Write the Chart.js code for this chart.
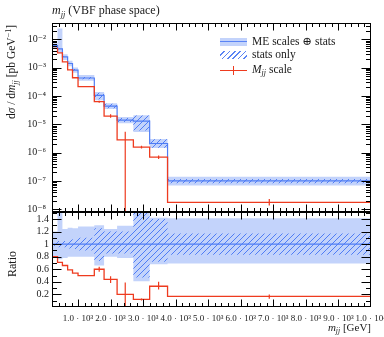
<!DOCTYPE html>
<html>
<head>
<meta charset="utf-8">
<script src="https://cdn.jsdelivr.net/npm/chart.js@4.4.0/dist/chart.umd.min.js"></script>
<style>
  body { margin: 0; background: #fff; }
  #wrap { position: relative; width: 384px; height: 337px; font-family: 'Liberation Serif', 'DejaVu Serif', serif; color: #1a1a1a; overflow: hidden; }
  #wrap canvas { position: absolute; left: 0; top: 0; }
  .txt { position: absolute; white-space: nowrap; line-height: 1; }
  sub, sup { font-size: 70%; line-height: 0; }
  sub { vertical-align: -0.3em; }
  sup { vertical-align: 0.55em; }
  .rot { transform: translate(-50%, -50%) rotate(-90deg); }
  .sw { position: absolute; }
</style>
</head>
<body>
<div id="wrap">
  <canvas id="main" width="384" height="337"></canvas>
  <canvas id="ratio" width="384" height="337"></canvas>

  <div class="txt" style="left:52px;top:4px;font-size:12px"><i>m</i><sub><i>jj</i></sub> (VBF phase space)</div>
  <div class="txt rot" style="left:12px;top:72px;font-size:11.5px">d<i>σ</i> / d<i>m</i><sub><i>jj</i></sub> [pb GeV<sup>−1</sup>]</div>
  <div class="txt rot" style="left:12px;top:264px;font-size:12px">Ratio</div>
  <div class="txt" style="right:13px;top:322px;font-size:11px"><i>m</i><sub><i>jj</i></sub> [GeV]</div>

  <!-- legend -->
  <div class="sw" style="left:220px;top:37.5px;width:27px;height:8.5px;background:#c3d3fb"></div>
  <div class="sw" style="left:220px;top:41px;width:27px;height:1.2px;background:#5a84f5"></div>
  <div class="txt" style="left:252px;top:35.5px;font-size:11.5px">ME scales ⊕ stats</div>
  <div class="sw" style="left:220px;top:50.5px;width:27px;height:8px;background:repeating-linear-gradient(135deg, transparent 0 2.6px, #5a84f5 2.6px 3.8px)"></div>
  <div class="txt" style="left:252px;top:49px;font-size:11.5px">stats only</div>
  <div class="sw" style="left:220px;top:69.5px;width:27px;height:1.3px;background:#ee3b1f"></div>
  <div class="sw" style="left:233px;top:66px;width:1.2px;height:8.5px;background:#ee3b1f"></div>
  <div class="txt" style="left:252px;top:63.5px;font-size:11.5px"><i>M</i><sub><i>jj</i></sub> scale</div>
</div>

<script>
// m_jj bin edges [GeV]
var binEdges = [200, 370, 520, 680, 830, 1000, 1500, 1800, 2200, 2700, 3200, 3750, 10000];

// dsigma/dm_jj [pb/GeV], ME scales central value and bands
var meCentral = [6.0e-3, 4.6e-3, 2.4e-3, 1.4e-3, 8.2e-4, 4.3e-4, 1.05e-4, 4.4e-5, 1.4e-5, 1.3e-5, 2.1e-6, 1.0e-7];
var meBandLo  = [4.8e-3, 3.5e-3, 1.87e-3, 1.12e-3, 6.6e-4, 3.44e-4, 7.0e-5, 3.5e-5, 1.1e-5, 5.3e-6, 1.45e-6, 0.69e-7];
var meBandHi  = [7.2e-3, 2.4e-2, 2.98e-3, 1.76e-3, 1.02e-3, 5.5e-4, 1.37e-4, 5.5e-5, 1.8e-5, 2.1e-5, 3.0e-6, 1.41e-7];
var statLo    = [5.8e-3, 4.4e-3, 2.28e-3, 1.3e-3, 7.5e-4, 3.9e-4, 7.7e-5, 3.7e-5, 1.2e-5, 6.1e-6, 1.5e-6, 0.83e-7];
var statHi    = [6.2e-3, 4.8e-3, 2.52e-3, 1.5e-3, 8.9e-4, 4.7e-4, 1.31e-4, 5.3e-5, 1.68e-5, 2.05e-5, 2.95e-6, 1.17e-7];

// M_jj scale curve and its error bars
var mjjScale = [4.8e-3, 3.3e-3, 1.6e-3, 8.3e-4, 4.4e-4, 2.15e-4, 6.3e-5, 1.95e-5, 2.8e-6, 1.56e-6, 6.9e-7, 1.75e-8];
var mjjErrLo = [null, null, null, null, null, null, 5.8e-5, 1.7e-5, 1e-12, 1.4e-6, 6.0e-7, 1.35e-8];
var mjjErrHi = [null, null, null, null, null, null, 6.8e-5, 2.25e-5, 5.5e-6, 1.75e-6, 7.9e-7, 2.3e-8];

// ratio panel
var ratioMe      = [1, 1, 1, 1, 1, 1, 1, 1, 1, 1, 1, 1];
var ratioBandLo  = [0.80, 0.76, 0.78, 0.80, 0.80, 0.80, 0.66, 0.80, 0.78, 0.41, 0.68, 0.69];
var ratioBandHi  = [1.20, 5.2, 1.24, 1.26, 1.25, 1.28, 1.30, 1.24, 1.29, 1.62, 1.42, 1.41];
var ratioStatLo  = [0.97, 0.95, 0.95, 0.93, 0.92, 0.90, 0.73, 0.85, 0.85, 0.47, 0.72, 0.83];
var ratioStatHi  = [1.03, 1.05, 1.05, 1.07, 1.08, 1.10, 1.25, 1.20, 1.20, 1.58, 1.40, 1.17];
var ratioMjj     = [0.80, 0.71, 0.66, 0.59, 0.54, 0.50, 0.60, 0.44, 0.20, 0.12, 0.33, 0.17];
var ratioMjjErrLo = [null, null, null, null, null, null, 0.56, 0.38, -0.1, 0.105, 0.28, 0.13];
var ratioMjjErrHi = [null, null, null, null, null, null, 0.64, 0.49, 0.39, 0.135, 0.40, 0.20];

// axes
var xTickValues = [1000, 2000, 3000, 4000, 5000, 6000, 7000, 8000, 9000, 10000];
var xTickLabels = ['1.0 · 10³', '2.0 · 10³', '3.0 · 10³', '4.0 · 10³', '5.0 · 10³', '6.0 · 10³', '7.0 · 10³', '8.0 · 10³', '9.0 · 10³', '1.0 · 10⁴'];
var yTickValues = [1e-8, 1e-7, 1e-6, 1e-5, 1e-4, 1e-3, 1e-2];
var yTickLabels = ['10⁻⁸', '10⁻⁷', '10⁻⁶', '10⁻⁵', '10⁻⁴', '10⁻³', '10⁻²'];
var ratioTickValues = [0.2, 0.4, 0.6, 0.8, 1, 1.2, 1.4];
var ratioTickLabels = ['0.2', '0.4', '0.6', '0.8', '1', '1.2', '1.4'];

var blue = '#4f7df5';
var lightBlue = '#c3d3fb';
var red = '#ee3b1f';

Chart.defaults.font.family = "'Liberation Serif', 'DejaVu Serif', serif";
Chart.defaults.color = '#1a1a1a';

function steps(vals) {
  var pts = [];
  for (var i = 0; i < vals.length; i++) pts.push({x: binEdges[i], y: vals[i]});
  pts.push({x: binEdges[binEdges.length - 1], y: vals[vals.length - 1]});
  return pts;
}

function errorBars(lo, hi) {
  var pts = [];
  for (var i = 0; i < lo.length; i++) {
    if (lo[i] == null) continue;
    var c = (binEdges[i] + binEdges[i + 1]) / 2;
    pts.push({x: c, y: lo[i]}, {x: c, y: hi[i]}, {x: c, y: null});
  }
  return pts;
}

function hatch() {
  var c = document.createElement('canvas');
  c.width = 6; c.height = 6;
  var g = c.getContext('2d');
  g.strokeStyle = blue;
  g.lineWidth = 1;
  g.beginPath();
  g.moveTo(0, 6); g.lineTo(6, 0);
  g.moveTo(-1, 1); g.lineTo(1, -1);
  g.moveTo(5, 7); g.lineTo(7, 5);
  g.stroke();
  return g.createPattern(c, 'repeat');
}

function histDatasets(bLo, bHi, sLo, sHi, central, other, errLo, errHi) {
  var base = {stepped: true, pointRadius: 0, borderWidth: 0, fill: false};
  return [
    Object.assign({}, base, {data: steps(bLo), order: 6}),
    Object.assign({}, base, {data: steps(bHi), order: 5, fill: 0, backgroundColor: lightBlue}),
    Object.assign({}, base, {data: steps(sLo), order: 4}),
    Object.assign({}, base, {data: steps(sHi), order: 3, fill: 2, backgroundColor: hatch()}),
    Object.assign({}, base, {data: steps(central), order: 2, borderWidth: 1.2, borderColor: blue}),
    Object.assign({}, base, {data: steps(other), order: 1, borderWidth: 1.3, borderColor: red}),
    {data: errorBars(errLo, errHi), order: 0, pointRadius: 0, borderWidth: 1.2, borderColor: red, spanGaps: false, fill: false}
  ];
}

// frame with inward ticks on all four sides
function framePlugin(yMajor, yMinor) {
  return {
    id: 'frame',
    afterDatasetsDraw: function(chart) {
      var ctx = chart.ctx, a = chart.chartArea;
      var xs = chart.scales.x, ys = chart.scales.y;
      var L = Math.round(a.left) + 0.5, R = Math.round(a.right) - 0.5;
      var T = Math.round(a.top) + 0.5, B = Math.round(a.bottom) - 0.5;
      ctx.save();
      ctx.strokeStyle = '#000';
      ctx.lineWidth = 1;
      ctx.beginPath();
      for (var v = 400; v < 10000; v += 200) {
        var len = v % 1000 === 0 ? 7 : 3.5;
        var px = Math.round(xs.getPixelForValue(v)) + 0.5;
        ctx.moveTo(px, T); ctx.lineTo(px, T + len);
        ctx.moveTo(px, B); ctx.lineTo(px, B - len);
      }
      function yt(list, len) {
        list.forEach(function(v) {
          var py = ys.getPixelForValue(v);
          if (py < a.top || py > a.bottom) return;
          py = Math.round(py) + 0.5;
          ctx.moveTo(L, py); ctx.lineTo(L + len, py);
          ctx.moveTo(R, py); ctx.lineTo(R - len, py);
        });
      }
      yt(yMajor, 9);
      yt(yMinor, 4.5);
      ctx.stroke();
      ctx.strokeRect(L, T, R - L, B - T);
      ctx.restore();
    }
  };
}

function fixWidth(w) {
  return function(scale) {
    scale.width = w;
    scale.paddingTop = 0; scale.paddingBottom = 0;
  };
}

var logMinor = [];
for (var d = -9; d <= -2; d++) {
  for (var k = 2; k <= 9; k++) logMinor.push(k * Math.pow(10, d));
}
var ratioMinor = [0.1, 0.3, 0.5, 0.7, 0.9, 1.1, 1.3, 1.5];

new Chart(document.getElementById('main'), {
  type: 'line',
  data: {
    datasets: histDatasets(meBandLo, meBandHi, statLo, statHi, meCentral, mjjScale, mjjErrLo, mjjErrHi)
  },
  options: {
    responsive: false,
    animation: false,
    layout: {padding: {left: 0, right: 13, top: 23, bottom: 125}},
    plugins: {legend: {display: false}, tooltip: {enabled: false}},
    scales: {
      x: {type: 'linear', min: 200, max: 10000, display: false},
      y: {
        type: 'logarithmic',
        min: Math.pow(10, -8.095),
        max: Math.pow(10, -1.425),
        grid: {display: false, drawTicks: false},
        border: {display: false},
        afterBuildTicks: function(scale) {
          scale.ticks = yTickValues.map(function(v) { return {value: v}; });
        },
        afterFit: fixWidth(52),
        ticks: {
          padding: 6,
          font: {size: 10},
          callback: function(v) { return yTickLabels[yTickValues.indexOf(v)]; }
        }
      }
    }
  },
  plugins: [framePlugin(yTickValues, logMinor)]
});

new Chart(document.getElementById('ratio'), {
  type: 'line',
  data: {
    datasets: histDatasets(ratioBandLo, ratioBandHi, ratioStatLo, ratioStatHi, ratioMe, ratioMjj, ratioMjjErrLo, ratioMjjErrHi)
  },
  options: {
    responsive: false,
    animation: false,
    layout: {padding: {left: 0, right: 13, top: 212, bottom: 0}},
    plugins: {legend: {display: false}, tooltip: {enabled: false}},
    scales: {
      x: {
        type: 'linear', min: 200, max: 10000,
        grid: {display: false, drawTicks: false},
        border: {display: false},
        afterBuildTicks: function(scale) {
          scale.ticks = xTickValues.map(function(v) { return {value: v}; });
        },
        afterFit: function(scale) {
          scale.height = 30;
          scale.paddingLeft = 0; scale.paddingRight = 0;
        },
        ticks: {
          padding: 6,
          autoSkip: false,
          maxRotation: 0,
          font: {size: 9},
          callback: function(v) { return xTickLabels[xTickValues.indexOf(v)]; }
        }
      },
      y: {
        type: 'linear',
        min: 0, max: 1.51,
        grid: {display: false, drawTicks: false},
        border: {display: false},
        afterBuildTicks: function(scale) {
          scale.ticks = ratioTickValues.map(function(v) { return {value: v}; });
        },
        afterFit: fixWidth(52),
        ticks: {
          padding: 3,
          font: {size: 10},
          callback: function(v) { return ratioTickLabels[ratioTickValues.indexOf(v)]; }
        }
      }
    }
  },
  plugins: [framePlugin(ratioTickValues, ratioMinor)]
});
</script>
</body>
</html>
